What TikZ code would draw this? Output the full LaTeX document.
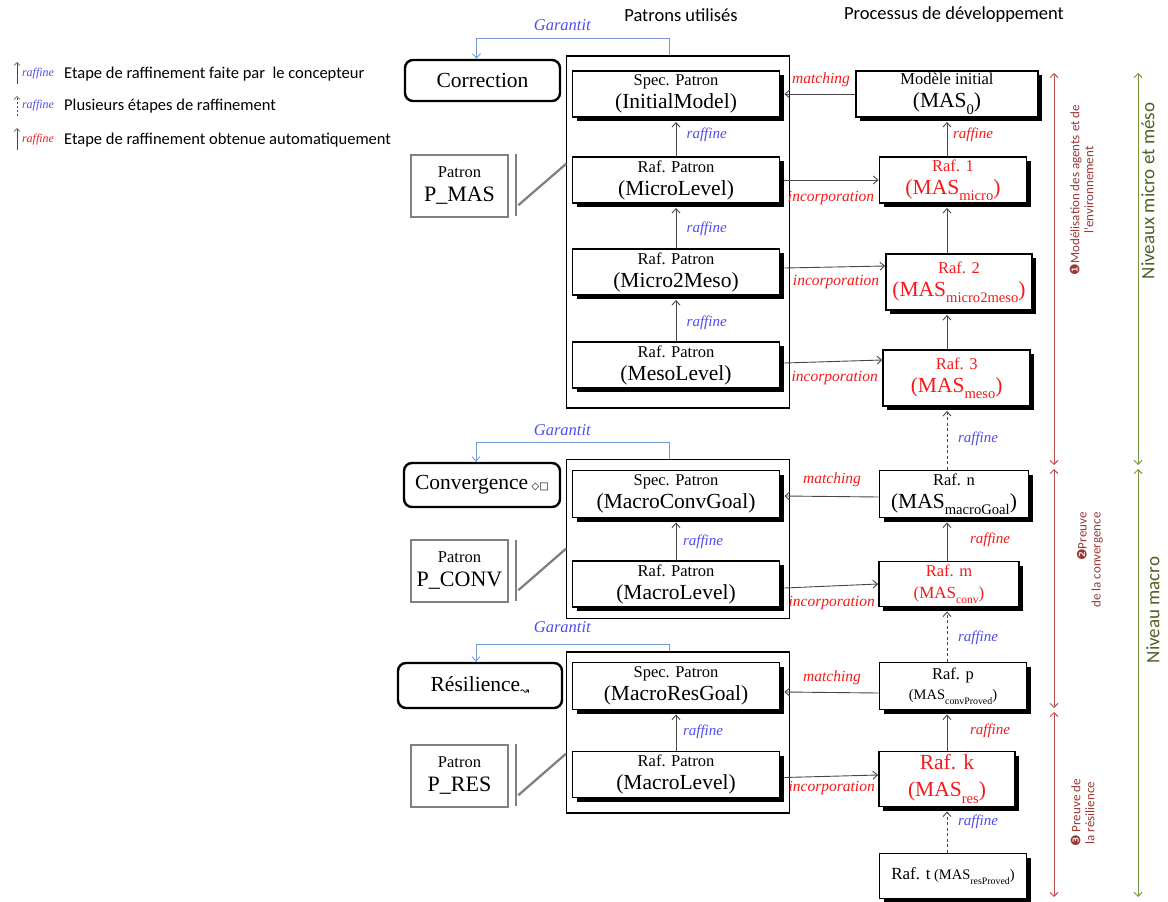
\documentclass[tikz,border=0pt]{standalone}
\usepackage{fontspec}
\setmainfont{Liberation Serif}
\newfontfamily\calfont{Carlito}
\newfontfamily\symfont{DejaVu Sans}
\usepackage{tikz}
\usetikzlibrary{
	arrows.meta,
	calc,
	shadows,
}
\definecolor{raffblue}{rgb}{0.30, 0.30, 0.95}
\definecolor{raffred}{rgb}{0.96, 0.10, 0.10}
\definecolor{garblue}{rgb}{0.45, 0.60, 0.84}
\definecolor{patgray}{rgb}{0.50, 0.50, 0.50}
\definecolor{connline}{rgb}{0.28, 0.28, 0.28}
\definecolor{phase}{rgb}{0.75, 0.31, 0.30}
\definecolor{phasetxt}{rgb}{0.60, 0.22, 0.21}
\definecolor{level}{rgb}{0.47, 0.58, 0.24}
\definecolor{leveltxt}{rgb}{0.31, 0.38, 0.16}
\newcommand{\boxhead}[1]{{\fontsize{16.5}{18}\selectfont #1}}
\newcommand{\masidx}[1]{\raisebox{-0.3em}{\scalebox{0.68}{#1}}}

\begin{document}
\begin{tikzpicture}[x=1pt, y=-1pt,
	conn/.style={draw=connline, line width=0.9pt, -{Straight Barb[length=4.5pt,width=8pt]}},
	multi/.style={conn, dash pattern=on 3pt off 2.5pt},
	legarr/.style={draw=connline, line width=0.7pt, -{Straight Barb[length=3pt,width=6pt]}},
	garant/.style={draw=garblue, line width=0.9pt, -{Straight Barb[length=4.5pt,width=8pt]}},
	grpbox/.style={draw, line width=1.1pt},
	patbox/.style={draw, line width=1.9pt, fill=white, minimum width=207pt, minimum height=46pt, inner sep=1pt, align=center,
		font=\fontsize{21.5}{23}\selectfont, drop shadow={shadow xshift=4pt, shadow yshift=-4pt, fill=black, opacity=1}},
	masbox/.style={patbox, minimum width=147pt},
	goalbox/.style={draw, line width=2.4pt, rounded corners=8pt, fill=white, font=\fontsize{21.5}{23}\selectfont},
	patronbox/.style={draw=patgray, line width=2.5pt, minimum width=97pt, minimum height=62pt, align=center, inner sep=1pt,
		font=\fontsize{22}{24}\selectfont},
	patline/.style={draw=patgray, line width=2.3pt},
	rafblue/.style={text=raffblue, font=\itshape\fontsize{15}{16}\selectfont, inner sep=0pt},
	rafred/.style={rafblue, text=raffred},
	redlbl/.style={text=raffred, font=\itshape\fontsize{15.5}{16}\selectfont, inner sep=0pt},
	garlbl/.style={text=raffblue, font=\itshape\fontsize{16.5}{18}\selectfont, inner sep=0pt},
	hdr/.style={font=\calfont\fontsize{18.5}{20}\selectfont, inner sep=0pt},
	lgtxt/.style={anchor=west, font=\calfont\fontsize{16.5}{18}\selectfont, inner sep=0pt},
	lgraf/.style={font=\itshape\fontsize{12}{13}\selectfont, inner sep=0pt},
	phasearr/.style={draw=phase, line width=0.9pt, {Straight Barb[length=4pt,width=8pt]}-{Straight Barb[length=4pt,width=8pt]}},
	levelarr/.style={phasearr, draw=level},
	phaselbl/.style={rotate=90, text=phasetxt, align=center, inner sep=0pt, font=\calfont\fontsize{13}{14}\selectfont},
	levellbl/.style={rotate=90, text=leveltxt, inner sep=0pt, font=\calfont\fontsize{19}{20}\selectfont},
]
\useasboundingbox (0,0) rectangle (1168,902);

% headers
\node[hdr] (hdrPat) at (681,15) {Patrons utilisés};
\node[hdr] (hdrDev) at (954,15) {Processus de développement};

% legend
\coordinate (lgA1) at (17,84); \coordinate (lgB1) at (17,62);
\draw[legarr] (lgA1) -- (lgB1);
\node[lgraf, text=raffblue] (lgR1) at (38,74) {raffine};
\node[lgtxt] (lgT1) at (64,74) {Etape de raffinement faite par~ le concepteur};
\coordinate (lgA2) at (17,116); \coordinate (lgB2) at (17,96);
\draw[legarr, dash pattern=on 2pt off 2pt] (lgA2) -- (lgB2);
\node[lgraf, text=raffblue] (lgR2) at (38,106) {raffine};
\node[lgtxt] (lgT2) at (64,106) {Plusieurs étapes de raffinement};
\coordinate (lgA3) at (17,150); \coordinate (lgB3) at (17,128);
\draw[legarr] (lgA3) -- (lgB3);
\node[lgraf, text=raffred] (lgR3) at (38,140) {raffine};
\node[lgtxt] (lgT3) at (64,140) {Etape de raffinement obtenue automatiquement};

%% patterns: micro and meso levels
\node[grpbox, minimum width=223pt, minimum height=352pt] (grpMAS) at (678.3,232) {};
\node[patbox] (specInit) at (676,94) {\boxhead{Spec. Patron}\\(InitialModel)};
\node[patbox] (microL) at (676,180) {\boxhead{Raf. Patron}\\(MicroLevel)};
\node[patbox] (microMeso) at (676,272) {\boxhead{Raf. Patron}\\(Micro2Meso)};
\node[patbox] (mesoL) at (676,365) {\boxhead{Raf. Patron}\\(MesoLevel)};
\draw[conn] (microL.north) -- ($(specInit.south)+(0,4)$);
\draw[conn] (microMeso.north) -- ($(microL.south)+(0,4)$);
\draw[conn] (mesoL.north) -- ($(microMeso.south)+(0,4)$);
\node[rafblue] (rbA1) at (706.7,135) {raffine};
\node[rafblue] (rbA2) at (706.7,229) {raffine};
\node[rafblue] (rbA3) at (706.7,322.7) {raffine};
% property and pattern
\node[goalbox, minimum width=155pt, minimum height=41pt] (corr) at (482.5,80.5) {Correction};
\node[patronbox] (pmas) at (459.5,186) {{\fontsize{16.5}{18}\selectfont Patron}\\P\_MAS};
\draw[patline] ($(pmas.north east)+(7,0)$) -- ($(pmas.south east)+(7,-2)$);
\draw[patline] ($(pmas.south east)+(9,-13)$) -- ($(pmas.north -| grpMAS.west)+(0,10)$);
\draw[garant] ($(grpMAS.north)+(-9,0)$) -- ++(0,-17) -| ($(corr.north)+(-6,0)$);
\node[garlbl] (gar1) at (562.3,25) {Garantit};

%% patterns: macro level, convergence
\node[grpbox, minimum width=223pt, minimum height=159pt] (grpCONV) at (678,538.8) {};
\node[patbox, minimum height=47pt] (convGoal) at (676,494) {\boxhead{Spec. Patron}\\(MacroConvGoal)};
\node[patbox] (macroLc) at (676,584) {\boxhead{Raf. Patron}\\(MacroLevel)};
\draw[conn] (macroLc.north) -- ($(convGoal.south)+(0,4)$);
\node[rafblue] (rbB1) at (703,541.7) {raffine};
\node[goalbox, minimum width=156pt, minimum height=44pt] (conv) at (482,485) {Convergence\,{\symfont\fontsize{10}{10}\selectfont ◇□}};
\node[patronbox] (pconv) at (459.5,571) {{\fontsize{16.5}{18}\selectfont Patron}\\P\_CONV};
\draw[patline] ($(pconv.north east)+(7,1)$) -- ($(pconv.south east)+(7,-2)$);
\draw[patline] ($(pconv.south east)+(9,-13)$) -- ($(pconv.north -| grpCONV.west)+(0,10)$);
\draw[garant] ($(grpCONV.north)+(-9,0)$) -- ++(0,-16) -| ($(conv.north)+(-6,0)$);
\node[garlbl] (gar2) at (562.3,430) {Garantit};

%% patterns: macro level, resilience
\node[grpbox, minimum width=223pt, minimum height=161pt] (grpRES) at (678,732.5) {};
\node[patbox, minimum height=47pt] (resGoal) at (676,686) {\boxhead{Spec. Patron}\\(MacroResGoal)};
\node[patbox] (macroLr) at (676,774.5) {\boxhead{Raf. Patron}\\(MacroLevel)};
\draw[conn] (macroLr.north) -- ($(resGoal.south)+(0,4)$);
\node[rafblue] (rbC1) at (703,731.7) {raffine};
\node[goalbox, minimum width=164pt, minimum height=45pt] (resil) at (480,685.5) {Résilience\raisebox{-3pt}{\symfont\fontsize{11}{11}\selectfont ↝}};
\node[patronbox] (pres) at (459.5,776) {{\fontsize{16.5}{18}\selectfont Patron}\\P\_RES};
\draw[patline] ($(pres.north east)+(7,0)$) -- ($(pres.south east)+(7,-2)$);
\draw[patline] ($(pres.south east)+(9,-13)$) -- ($(pres.north -| grpRES.west)+(0,10)$);
\draw[garant] ($(grpRES.north)+(-9,0)$) -- ++(0,-7.4) -| ($(resil.north)+(-4,0)$);
\node[garlbl] (gar3) at (562.3,626.7) {Garantit};

%% development process
\node[patbox, minimum width=182pt] (mas0) at (947,94) {\boxhead{Modèle initial}\\(MAS\masidx{0})};
\node[masbox, text=raffred] (raf1) at (953,180) {\boxhead{Raf. 1}\\(MAS\masidx{micro})};
\node[masbox, text=raffred, minimum width=146pt, minimum height=56pt] (raf2) at (959,282) {\boxhead{Raf. 2}\\(MAS\masidx{micro2meso})};
\node[masbox, text=raffred, minimum height=56pt] (raf3) at (956.7,378) {\boxhead{Raf. 3}\\(MAS\masidx{meso})};
\node[masbox, minimum width=149pt, minimum height=47pt] (rafN) at (954,494) {\boxhead{Raf. n}\\(MAS\masidx{macroGoal})};
\node[masbox, text=raffred, minimum width=140pt, minimum height=45pt, font=\fontsize{17}{22}\selectfont] (rafM) at (949,584) {\boxhead{Raf. m}\\(MAS\masidx{conv})};
\node[masbox, minimum height=47pt, font=\fontsize{14.5}{20.5}\selectfont] (rafP) at (953,686) {\boxhead{Raf. p}\\(MAS\masidx{convProved})};
\node[masbox, text=raffred, minimum width=136pt, minimum height=55pt, font=\fontsize{21.5}{27}\selectfont] (rafK) at (947,779) {Raf. k\\(MAS\masidx{res})};
\node[masbox, minimum height=45pt, font=\fontsize{14.5}{16}\selectfont] (rafT) at (953,876) {{\fontsize{17}{18}\selectfont Raf. t} (MAS\masidx{resProved})};

% refinements
\draw[conn] (raf1.north -| mas0) -- ($(mas0.south)+(0,4)$);
\node[rafred] (rrD1) at (973,135) {raffine};
\draw[conn] (raf2.north -| mas0) -- ($(raf1.south -| mas0)+(0,4)$);
\draw[conn] (raf3.north -| mas0) -- ($(raf2.south -| mas0)+(0,4)$);
\draw[multi] (rafN.north -| mas0) -- ($(raf3.south -| mas0)+(0,4)$);
\node[rafblue] (rbD2) at (978,439) {raffine};
\draw[conn] (rafM.north -| mas0) -- ($(rafN.south -| mas0)+(0,4)$);
\node[rafred] (rrD3) at (990,540) {raffine};
\draw[multi] (rafP.north -| mas0) -- ($(rafM.south -| mas0)+(0,4)$);
\node[rafblue] (rbD4) at (978,638) {raffine};
\draw[conn] (rafK.north -| mas0) -- ($(rafP.south -| mas0)+(0,4)$);
\node[rafred] (rrD5) at (990,731) {raffine};
\draw[multi] (rafT.north -| mas0) -- ($(rafK.south -| mas0)+(0,4)$);
\node[rafblue] (rbD6) at (978,822) {raffine};

% matching
\draw[conn] (mas0.west) -- ($(specInit.east)+(4,0)$);
\node[redlbl] (mt1) at (821,80) {matching};
\draw[conn] ($(rafN.west)+(0,3)$) -- ($(convGoal.east)+(4,2)$);
\node[redlbl] (mt2) at (832,480) {matching};
\draw[conn] ($(rafP.west)+(0,7)$) -- ($(resGoal.east)+(4,6)$);
\node[redlbl] (mt3) at (832,678) {matching};

% incorporation
\draw[conn] ($(microL.east)+(4,0)$) -- (raf1.west);
\node[redlbl] (inc1) at (831,198) {incorporation};
\draw[conn] ($(microMeso.east)+(4,-4)$) -- ($(raf2.west)+(0,-16)$);
\node[redlbl] (inc2) at (836,281.7) {incorporation};
\draw[conn] ($(mesoL.east)+(4,-2)$) -- ($(raf3.west)+(0,-18)$);
\node[redlbl] (inc3) at (834.7,378) {incorporation};
\draw[conn] ($(macroLc.east)+(4,4)$) -- (rafM.west);
\node[redlbl] (inc4) at (831.7,602.7) {incorporation};
\draw[conn] ($(macroLr.east)+(4,3)$) -- ($(rafK.west)+(0,-4)$);
\node[redlbl] (inc5) at (831.7,787.7) {incorporation};

% phases
\coordinate (ph1a) at (1054,73); \coordinate (ph1b) at (1054,465);
\coordinate (ph2a) at (1054,469); \coordinate (ph2b) at (1054,708);
\coordinate (ph3a) at (1054,712); \coordinate (ph3b) at (1054,897);
\draw[phasearr] (ph1a) -- (ph1b);
\draw[phasearr] (ph2a) -- (ph2b);
\draw[phasearr] (ph3a) -- (ph3b);
\node[phaselbl] (ph1t) at (1081.5,190) {{\symfont ❶}Modélisation des agents et de\\l'environnement};
\node[phaselbl, align=right] (ph2t) at (1090,560) {{\symfont ❷}Preuve\\de la convergence};
\node[phaselbl] (ph3t) at (1082.5,813) {{\symfont ❸} Preuve de\\la résilience};

% levels
\coordinate (lv1a) at (1138,73); \coordinate (lv1b) at (1138,465);
\coordinate (lv2a) at (1138,469); \coordinate (lv2b) at (1138,897);
\draw[levelarr] (lv1a) -- (lv1b);
\draw[levelarr] (lv2a) -- (lv2b);
\node[levellbl] (lv1t) at (1148,191) {Niveaux micro et méso};
\node[levellbl] (lv2t) at (1153,610) {Niveau macro};
\end{tikzpicture}
\end{document}
